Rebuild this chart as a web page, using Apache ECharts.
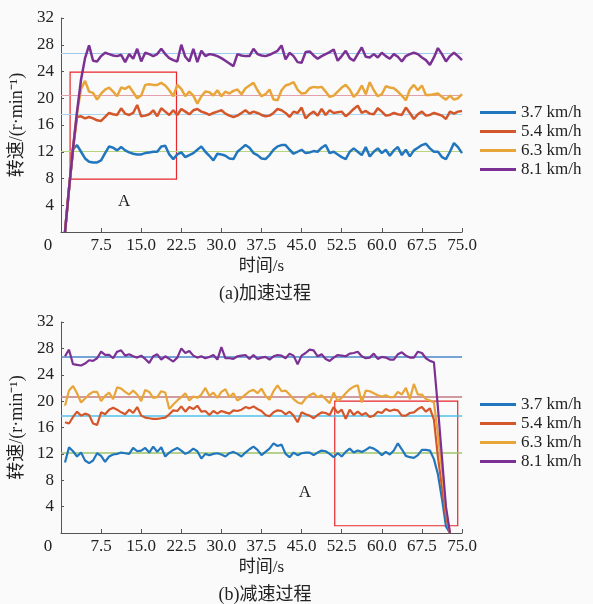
<!DOCTYPE html>
<html>
<head>
<meta charset="utf-8">
<script src="https://cdn.jsdelivr.net/npm/echarts@6/dist/echarts.min.js"></script>
<style>
  html, body { margin: 0; padding: 0; background: #fafafa; }
  #main { width: 593px; height: 604px; }
</style>
</head>
<body>
<div id="main"></div>
<script>
// 图例名称
var names = ['3.7 km/h', '5.4 km/h', '6.3 km/h', '8.1 km/h'];
var colors = ['#2276bd', '#d4562b', '#e8a53a', '#7b3193'];
var tStep = 0.75; // 采样间隔 s

// (a) 加速过程
var accBlue = [
  0, 6.5, 12.4, 13.0, 12.0, 11.0, 10.5, 10.4, 10.4, 10.7,
  11.8, 12.8, 12.6, 12.2, 12.7, 12.2, 11.9, 11.7, 11.6, 11.6,
  11.8, 11.9, 12.0, 12.0, 12.8, 12.9, 11.6, 10.9, 11.6, 11.9,
  11.2, 11.5, 11.8, 12.3, 12.8, 12.0, 11.4, 10.7, 11.7, 11.6,
  11.4, 11.0, 10.9, 12.0, 12.5, 13.0, 12.6, 11.8, 11.5, 11.0,
  10.9, 11.5, 12.3, 12.8, 13.0, 13.0, 12.3, 11.7, 12.0, 12.3,
  11.8, 11.9, 12.1, 12.0, 12.6, 13.0, 11.8, 12.0, 11.6, 11.2,
  10.9, 12.0, 12.5, 12.0, 11.5, 12.7, 11.3, 12.0, 12.5, 11.8,
  12.3, 11.4, 12.2, 12.7, 11.5, 12.3, 11.3, 12.2, 12.6, 13.0,
  13.2, 12.5, 12.0, 12.0, 11.2, 10.9, 12.0, 13.3, 12.7, 11.8
];
var accRed = [
  0, 6.5, 12.5, 17.2, 17.3, 17.0, 17.2, 17.0, 16.7, 16.6,
  17.2, 17.8, 17.6, 17.5, 18.5, 17.7, 17.5, 17.8, 19.0, 17.3,
  17.4, 17.6, 18.2, 17.3, 18.5, 18.0, 17.5, 18.2, 17.5, 18.4,
  18.0, 17.6, 18.2, 18.4, 18.0, 17.8, 17.5, 17.8, 18.0, 18.2,
  17.7, 17.4, 17.2, 17.4, 17.8, 18.2, 17.7, 18.0, 17.8, 17.5,
  17.3, 17.4, 17.8, 18.4, 18.2, 17.8, 17.2, 18.0, 17.8, 18.6,
  17.0, 17.6, 18.0, 17.4, 18.4, 17.5, 18.2, 17.8, 17.9, 18.0,
  17.3, 17.8, 18.4, 18.9, 17.8, 18.1, 17.7, 17.6, 18.5, 18.0,
  17.4, 17.5, 17.8, 17.6, 17.5, 18.6, 17.8, 16.9, 17.6, 18.0,
  17.4, 17.5, 17.8, 17.6, 17.4, 16.9, 18.0, 17.7, 18.0, 18.1
];
var accOrange = [
  0, 6.5, 12.5, 17.8, 21.4, 22.6, 21.0, 20.8, 19.8, 20.7,
  21.3, 21.6, 21.0, 20.3, 21.6, 21.4, 21.8, 20.9, 20.0, 20.4,
  22.0, 22.1, 22.0, 22.0, 22.3, 21.9, 21.2, 20.3, 22.0, 21.4,
  20.3, 21.0, 20.4, 19.2, 20.3, 21.0, 20.9, 20.4, 21.2, 20.3,
  21.0, 20.7, 21.1, 21.3, 20.6, 21.5, 21.9, 22.3, 21.2, 20.3,
  20.6, 21.3, 19.8, 19.7, 21.2, 21.9, 22.1, 22.4, 21.3, 20.7,
  20.8, 21.5, 21.7, 21.6, 21.7, 21.0, 20.2, 20.4, 21.0, 21.6,
  22.0, 21.3, 20.2, 20.8, 21.9, 20.6, 22.4, 21.2, 20.3, 20.6,
  21.8, 21.6, 21.5, 21.0, 20.4, 19.7, 21.3, 22.0, 21.2, 21.9,
  20.5, 20.5, 20.6, 20.7, 20.2, 19.8, 20.4, 19.8, 20.0, 20.6
];
var accPurple = [
  0, 6.5, 12.5, 18.0, 22.8, 26.0, 27.9, 25.6, 25.5, 26.3,
  26.8, 26.6, 26.4, 26.3, 26.5, 25.4, 26.6, 25.9, 27.4, 25.5,
  26.8, 26.6, 26.3, 26.6, 27.4, 26.6, 26.0, 25.7, 25.5, 28.0,
  26.2, 25.5, 27.4, 25.4, 27.1, 26.3, 26.6, 26.5, 26.3, 26.0,
  25.6, 25.2, 24.8, 26.6, 26.4, 26.3, 26.3, 27.4, 26.6, 26.4,
  26.3, 26.5, 26.8, 27.1, 27.9, 25.8, 26.8, 26.3, 25.4, 25.3,
  26.9, 27.0, 26.4, 25.9, 26.3, 26.6, 26.9, 27.3, 25.6, 26.3,
  27.1, 26.0, 25.6, 26.6, 27.6, 26.2, 26.1, 26.6, 26.1, 26.8,
  26.3, 25.9, 26.6, 26.2, 25.5, 26.3, 26.6, 26.8, 26.6, 26.1,
  25.7, 25.0, 26.1, 27.5, 26.6, 25.5, 26.3, 26.8, 26.3, 25.7
];

// (b) 减速过程
var decBlue = [
  10.7, 13.0, 12.4, 11.6, 12.2, 11.0, 10.6, 11.0, 12.1, 11.7,
  10.8, 11.6, 11.9, 12.0, 12.2, 12.1, 12.0, 12.9, 12.4, 12.5,
  12.9, 12.2, 13.1, 12.3, 13.0, 11.6, 12.2, 12.6, 12.9, 12.5,
  12.0, 12.3, 12.8, 12.4, 11.3, 12.0, 11.8, 12.0, 12.1, 11.9,
  11.6, 12.1, 12.3, 12.0, 11.6, 12.2, 12.7, 13.1, 12.6, 11.8,
  12.3, 12.8, 13.6, 13.2, 13.4, 12.0, 11.5, 12.2, 11.8, 12.1,
  12.2, 12.2, 11.8, 12.2, 12.5, 12.4, 12.0, 11.5, 12.1, 11.6,
  12.3, 12.8, 12.2, 12.5, 12.3, 12.6, 13.0, 12.8, 12.4, 11.8,
  12.3, 11.9, 12.5, 13.6, 12.7, 11.7, 11.5, 11.4, 11.8, 12.6,
  12.6, 12.5, 11.2, 8.9, 5.2, 1.0, 0
];
var decRed = [
  16.8, 16.6, 17.6, 18.4, 17.8, 18.1, 17.9, 16.6, 16.4, 18.3,
  18.0, 18.7, 19.0, 18.7, 18.3, 18.0, 18.7, 18.2, 19.1, 17.8,
  17.5, 17.4, 17.3, 17.3, 17.4, 17.5, 18.0, 18.6, 18.5, 19.2,
  18.4, 19.1, 18.8, 19.3, 18.4, 18.5, 17.9, 18.5, 18.1, 18.5,
  18.3, 18.1, 18.6, 18.5, 18.7, 19.1, 18.9, 19.2, 18.8, 18.5,
  17.9, 17.7, 18.3, 18.6, 18.5, 18.0, 18.4, 17.8, 16.8, 18.3,
  18.0, 17.8, 17.4, 17.9, 18.3, 18.2, 17.9, 19.1, 18.2, 18.7,
  17.3, 18.7, 17.9, 18.4, 17.9, 18.2, 17.6, 17.8, 18.4, 18.2,
  18.8, 18.5, 18.7, 18.6, 17.8, 17.8, 18.2, 18.3, 18.8, 19.1,
  18.4, 18.9, 17.2, 11.5, 7.0, 2.5, 0
];
var decOrange = [
  19.3, 21.6, 22.3, 21.2, 19.8, 20.4, 21.0, 21.4, 21.4, 20.0,
  20.8, 21.3, 20.3, 22.1, 21.9, 21.4, 21.0, 21.6, 21.0, 20.0,
  21.7, 21.4, 20.5, 20.6, 21.5, 21.3, 18.8, 19.5, 20.1, 20.6,
  21.2, 20.1, 20.7, 20.5, 21.0, 22.0, 20.8, 21.3, 20.5, 21.4,
  21.8, 20.6, 21.2, 20.1, 20.5, 21.0, 21.5, 21.7, 21.2, 21.9,
  20.8, 20.2, 21.5, 22.4, 21.5, 21.6, 21.0, 20.3, 19.8, 19.6,
  20.4, 20.9, 21.2, 20.6, 20.9, 20.3, 19.7, 21.3, 20.0, 20.5,
  21.2, 21.8, 22.2, 22.4, 19.8, 21.6, 21.5, 21.2, 20.9, 20.7,
  20.9, 20.6, 20.6, 21.4, 21.0, 22.0, 20.3, 22.6, 21.0, 21.0,
  20.3, 20.1, 19.8, 15.0, 9.5, 3.5, 0
];
var decPurple = [
  26.8, 27.8, 25.6, 25.5, 25.4, 25.7, 26.2, 26.1, 26.5, 27.5,
  27.0, 27.0, 26.5, 27.5, 27.7, 26.9, 27.1, 26.8, 26.6, 26.9,
  26.4, 25.8, 26.8, 27.1, 26.3, 26.8, 26.4, 26.0, 26.6, 28.0,
  27.3, 27.6, 26.9, 26.6, 26.8, 26.5, 26.7, 27.0, 26.3, 28.2,
  26.5, 26.5, 26.4, 26.8, 26.9, 27.0, 26.4, 27.0, 26.4, 26.6,
  26.7, 26.3, 26.8, 27.0, 26.9, 26.5, 27.2, 26.9, 25.6, 26.9,
  27.3, 27.8, 27.7, 26.8, 27.1, 26.4, 26.1, 26.6, 27.0, 26.9,
  26.8, 27.2, 27.3, 27.5, 26.8, 26.5, 26.6, 27.2, 26.4, 26.7,
  26.6, 26.3, 26.3, 27.1, 27.4, 26.9, 26.6, 26.6, 27.5, 27.3,
  26.5, 26.1, 25.9, 19.0, 11.5, 4.0, 0
];

// 平均值参考线
var accRef = [26.7, 20.5, 17.6, 12.1];
var decRef = [26.8, 20.7, 17.8, 12.2];
var accRefColors = ['#9ccbec', '#e3a0a8', '#a6d6f0', '#b8d47c'];
var decRefColors = ['#4a86c8', '#c27a80', '#4fbfea', '#9cc468'];

// 区域A 方框 [[t1, v1], [t2, v2]] 和标注位置
var accBox = [[1.7, 23.9], [21.6, 7.9]];
var decBox = [[51.2, 20.0], [74.2, 1.1]];
var accMarkA = [11.8, 4.6];
var decMarkA = [45.6, 6.1];

var serif = 'Liberation Serif, Noto Sans CJK SC, serif';
var fs = 17; // 刻度、图例字号

function toPairs(arr) {
  return arr.map(function (v, i) { return [(i + 1) * tStep, v]; });
}

function makeSeries(idx, list, refs, refColors, box, markA, width) {
  return list.map(function (arr, k) {
    var s = {
      name: names[k],
      type: 'line',
      xAxisIndex: idx,
      yAxisIndex: idx,
      showSymbol: false,
      symbol: 'none',
      data: toPairs(arr),
      lineStyle: { color: colors[k], width: width },
      itemStyle: { color: colors[k] },
      z: 3 + k
    };
    if (k === 0) {
      s.markLine = {
        silent: true,
        symbol: 'none',
        label: { show: false },
        z: 1,
        data: refs.map(function (v, j) {
          return { yAxis: v, lineStyle: { color: refColors[j], width: idx === 0 ? 1.2 : 1.6, type: 'solid' } };
        })
      };
      s.markArea = {
        silent: true,
        itemStyle: { color: 'rgba(0,0,0,0)', borderColor: '#e8262b', borderWidth: 1.2 },
        data: [[{ coord: box[0] }, { coord: box[1] }]]
      };
      s.markPoint = {
        silent: true,
        symbol: 'circle',
        symbolSize: 0,
        label: { show: true, formatter: 'A', color: '#222', fontFamily: serif, fontSize: 17, position: 'inside' },
        data: [{ coord: markA }]
      };
    }
    return s;
  });
}

function xAxisOf(idx) {
  return {
    type: 'value',
    gridIndex: idx,
    min: 0, max: 75, interval: 7.5,
    name: '时间/s',
    nameLocation: 'middle',
    nameGap: 26,
    nameTextStyle: { fontFamily: serif, fontSize: 17, color: '#222' },
    axisLine: { lineStyle: { color: '#555', width: 1 } },
    axisTick: { show: true, inside: true, length: 4, lineStyle: { color: '#555' } },
    splitLine: { show: false },
    axisLabel: {
      margin: 5,
      fontFamily: serif, fontSize: fs, color: '#222',
      formatter: function (v) { return v === 0 ? '{o|0}' : v.toFixed(1); },
      rich: { o: { fontFamily: serif, fontSize: fs, color: '#222', padding: [0, 26, 0, 0] } }
    }
  };
}

function yAxisOf(idx) {
  return {
    type: 'value',
    gridIndex: idx,
    min: 0, max: 32, interval: 4,
    name: '转速/(r·min⁻¹)',
    nameLocation: 'middle',
    nameRotate: 90,
    nameGap: 35,
    nameTextStyle: { fontFamily: serif, fontSize: 18, color: '#222' },
    axisLine: { show: true, lineStyle: { color: '#555', width: 1 } },
    axisTick: { show: true, inside: true, length: 3, lineStyle: { color: '#555' } },
    splitLine: { show: false },
    axisLabel: {
      margin: 7,
      fontFamily: serif, fontSize: fs, color: '#222',
      formatter: function (v) { return v === 0 ? '' : String(v); }
    }
  };
}

function legendOf(top) {
  return {
    data: names,
    orient: 'vertical',
    left: 475,
    top: top,
    icon: 'rect',
    itemWidth: 36,
    itemHeight: 3,
    itemGap: 0,
    textStyle: { fontFamily: serif, fontSize: fs, color: '#222', lineHeight: 19 },
    selectedMode: false
  };
}

var chart = echarts.init(document.getElementById('main'), null, { renderer: 'canvas' });

var option = {
  backgroundColor: '#fafafa',
  animation: false,
  title: [
    { text: '(a)加速过程', left: 260, top: 280, textAlign: 'center',
      textStyle: { fontFamily: serif, fontSize: 18, fontWeight: 'normal', color: '#222' } },
    { text: '(b)减速过程', left: 260, top: 581, textAlign: 'center',
      textStyle: { fontFamily: serif, fontSize: 18, fontWeight: 'normal', color: '#222' } }
  ],
  legend: [legendOf(98), legendOf(390)],
  grid: [
    { left: 60, top: 18, width: 402, height: 214 },
    { left: 59, top: 322, width: 403, height: 211 }
  ],
  xAxis: [xAxisOf(0), xAxisOf(1)],
  yAxis: [yAxisOf(0), yAxisOf(1)],
  series: []
    .concat(makeSeries(0, [accBlue, accRed, accOrange, accPurple], accRef, accRefColors, accBox, accMarkA, 2.5))
    .concat(makeSeries(1, [decBlue, decRed, decOrange, decPurple], decRef, decRefColors, decBox, decMarkA, 2.2))
};

chart.setOption(option);
</script>
</body>
</html>
